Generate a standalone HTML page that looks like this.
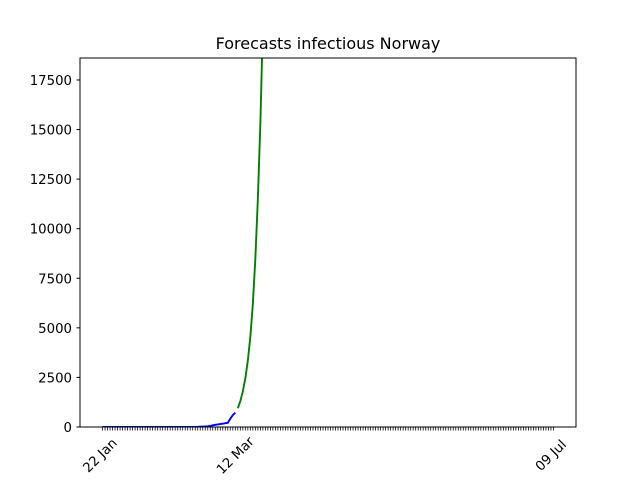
<!DOCTYPE html>
<html><head><meta charset="utf-8"><style>body{margin:0;background:#fff}svg{display:block;font-family:"DejaVu Sans","Liberation Sans",sans-serif}</style></head>
<body>
<svg id="chart" width="640" height="480">
<rect width="640" height="480" fill="#fff"/>
<text x="328" y="49" text-anchor="middle" font-size="16">Forecasts infectious Norway</text>
<defs><clipPath id="clip"><rect x="80" y="58" width="496" height="369"/></clipPath></defs>
<g id="ticks"></g>
<g id="lines" clip-path="url(#clip)"></g>
<rect x="80" y="58" width="496" height="369" fill="none" stroke="#000" stroke-width="1"/>
</svg>
<script>
const blueDays=[];for(let d=0;d<=53;d++)blueDays.push(d);
const blueVals=[0,0,0,0,0,0,0,0,0,0,0,0,0,0,0,0,0,0,0,0,0,0,0,0,0,0,0,0,0,0,0,0,0,0,0,0,1,2,6,15,19,25,32,56,87,108,130,150,170,190,210,420,600,720];
const greenDays=[54,55,56,57,58,59,60,61,62,63,64];
const greenVals=[950,1300,1800,2450,3350,4550,6200,8500,11500,15300,20300];
const yTicks=[0,2500,5000,7500,10000,12500,15000,17500];
const xLabelDays=[0,54,180];
const xLabels=["22 Jan","12 Mar","09 Jul"];
const tickDays=180;
const X=d=>80+(d+9)*496/198;
const Y=v=>427-v*369/18608;
const NS="http://www.w3.org/2000/svg";
const tg=document.getElementById('ticks'),lg=document.getElementById('lines');
function mk(t,a,p){const e=document.createElementNS(NS,t);for(const k in a)e.setAttribute(k,a[k]);p.appendChild(e);return e;}
yTicks.forEach(v=>{
 const l=mk('line',{x1:76.5,x2:80,y1:Y(v),y2:Y(v),stroke:'#000'},tg);
 
 
 const t=mk('text',{x:72,y:Y(v)+5,'text-anchor':'end','font-size':13.3},tg);t.textContent=v;
 
 
});
for(let d=0;d<=tickDays;d++){
 const l=mk('line',{x1:X(d),x2:X(d),y1:427,y2:430.5,stroke:'#000','stroke-width':0.8},tg);
 
 
}
xLabelDays.forEach((d,i)=>{
 const x=X(d)-3,y=455;
 const t=mk('text',{x:x,y:y+5,'text-anchor':'middle','font-size':13.3,transform:`rotate(-45 ${x} ${y})`},tg);t.textContent=xLabels[i];
 
 
});
function path(days,vals,col,name){
 const p=mk('polyline',{points:days.map((d,i)=>X(d)+','+Y(vals[i])).join(' '),fill:'none',stroke:col,'stroke-width':1.9},lg);
 
 
}
path(blueDays,blueVals,'#0000ff','observed-line');
path(greenDays,greenVals,'#008000','forecast-line');
</script>
</body></html>
